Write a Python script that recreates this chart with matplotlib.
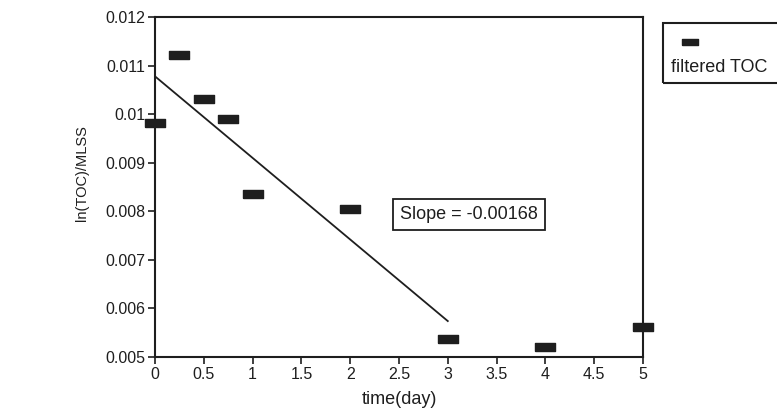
import numpy as np
import matplotlib.pyplot as plt
from matplotlib.patches import Rectangle

plt.rcParams['font.family'] = ['Liberation Sans', 'DejaVu Sans']

# filtered TOC data
time_day = [0, 0.25, 0.5, 0.75, 1, 2, 3, 4, 5]
ln_toc_mlss = [0.00981, 0.01122, 0.01031, 0.00991, 0.00835, 0.00804, 0.00538, 0.00520, 0.00561]

# linear fit over the first 3 days
slope = -0.00168
intercept = 0.01078
fit_end = 3

fig = plt.figure(figsize=(7.77, 4.13), dpi=100)
ax = fig.add_axes([0.1995, 0.1356, 0.628, 0.823])

bar_marker = [(-1.4, -0.55), (1.4, -0.55), (1.4, 0.55), (-1.4, 0.55), (-1.4, -0.55)]
ax.plot(time_day, ln_toc_mlss, linestyle='none', marker=bar_marker, markersize=14,
        color='#1e1e1e', clip_on=False, zorder=3)

xfit = np.array([0, fit_end])
ax.plot(xfit, intercept + slope * xfit, color='#1e1e1e', lw=1.3)

ax.set_xlim(0, 5)
ax.set_ylim(0.005, 0.012)
ax.set_xticks(np.arange(0, 5.01, 0.5))
ax.set_xticklabels(['0', '0.5', '1', '1.5', '2', '2.5', '3', '3.5', '4', '4.5', '5'])
ax.set_yticks(np.arange(0.005, 0.01201, 0.001))
ax.set_yticklabels(['0.005', '0.006', '0.007', '0.008', '0.009', '0.01', '0.011', '0.012'])
ax.tick_params(direction='out', length=5, width=1.2, labelsize=11.5, colors='#1e1e1e', pad=2)
for s in ax.spines.values():
    s.set_linewidth(1.5)
    s.set_color('#1e1e1e')

ax.set_xlabel('time(day)', fontsize=13, color='#1e1e1e')
ax.xaxis.set_label_coords(0.5, -0.1)
ax.set_ylabel('ln(TOC)/MLSS', fontsize=10.5, color='#1e1e1e')
ax.yaxis.set_label_coords(-0.136, 0.54)

# slope annotation box
ax.text(2.51, 0.00794, 'Slope = -0.00168', fontsize=13, color='#1e1e1e',
        va='center', ha='left',
        bbox=dict(boxstyle='square,pad=0.4', fc='white', ec='#1e1e1e', lw=1.3))

# legend box off to the right
fig.patches.append(Rectangle((663 / 777, 1 - 83 / 413), 0.2, 60 / 413, transform=fig.transFigure,
                             fill=False, ec='#1e1e1e', lw=1.5))
fig.lines.append(plt.Line2D([690 / 777], [1 - 42 / 413], transform=fig.transFigure,
                            marker=bar_marker, markersize=12, color='#1e1e1e', linestyle='none'))
fig.text(671 / 777, 1 - 67 / 413, 'filtered TOC', fontsize=13, color='#1e1e1e', va='center')

fig.savefig('out.png', dpi=100)
